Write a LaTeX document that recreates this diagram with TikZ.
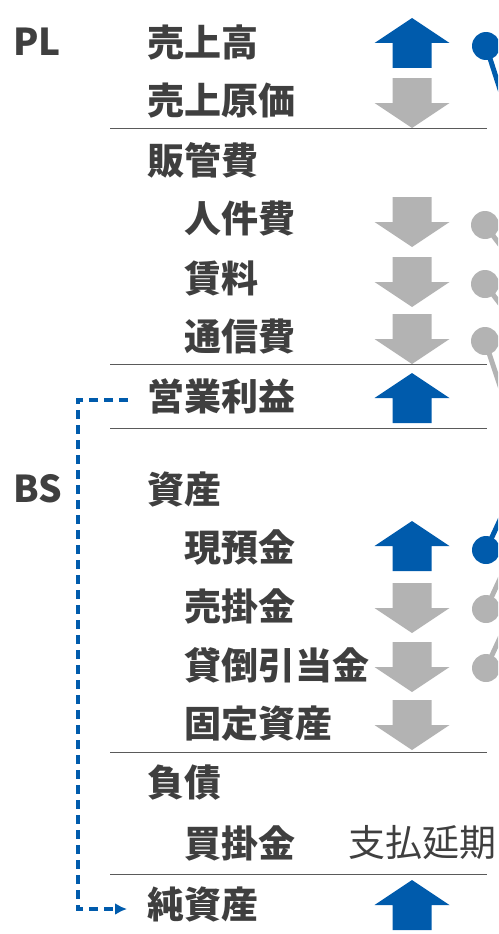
\documentclass[tikz,border=0pt]{standalone}
\usepackage{fontspec}
\setmainfont{Noto Sans CJK JP}
\usepackage{xcolor}
\usetikzlibrary{arrows.meta}
\definecolor{plblue}{HTML}{005BAC}
\definecolor{flatgray}{HTML}{B3B3B3}
\definecolor{inkgray}{HTML}{3F3F3F}
\definecolor{rulegray}{HTML}{5A5A5A}

\begin{document}
\begin{tikzpicture}[
  x=1pt, y=-1pt,
  every node/.style={inner sep=0pt, anchor=west, text=inkgray, font=\fontsize{37}{40}\selectfont\bfseries},
  plain/.style={font=\fontsize{37}{40}\selectfont},
  uparr/.pic={\fill[plblue] (-19.5,25) -- (19.5,25) -- (19.5,0) -- (37.5,0) -- (0,-25) -- (-37.5,0) -- (-19.5,0) -- cycle;},
  downarr/.pic={\fill[flatgray] (-19.5,-25) -- (19.5,-25) -- (19.5,0) -- (37.5,0) -- (0,25) -- (-37.5,0) -- (-19.5,0) -- cycle;},
  sep/.style={draw=rulegray, line width=1pt},
  tail/.style={line width=5pt},
  dashlink/.style={draw=plblue, line width=4pt, dash pattern=on 9pt off 6pt, -{Latex[length=12pt,width=12pt]}}
]
\useasboundingbox (0,0) rectangle (498,934);
\clip (0,0) rectangle (498,934);

% PL
\node (pl) at (13,42) {PL};
\node (uri) at (147,42) {売上高};
\node (genka) at (147,101) {売上原価};
\node (hankan) at (147,160) {販管費};
\node (jinken) at (184,219) {人件費};
\node (chinryo) at (184,278) {賃料};
\node (tsushin) at (184,337) {通信費};
\node (eigyo) at (147,396) {営業利益};

% BS
\node (bs) at (13,489) {BS};
\node (shisan) at (147,489) {資産};
\node (genyo) at (184,547) {現預金};
\node (urikake) at (184,606) {売掛金};
\node (kashidaore) at (184,665) {貸倒引当金};
\node (kotei) at (184,724) {固定資産};
\node (fusai) at (147,783) {負債};
\node (kaikake) at (184,843) {買掛金};
\node[plain] (enki) at (348,843) {支払延期};
\node (junshisan) at (147,904) {純資産};

% separators
\foreach \y in {128,364,428,752,874}
  \draw[sep] (110,\y) -- (487,\y);

% up / down marks
\foreach \y in {43,398,546,905}
  \pic at (412,\y) {uparr};
\foreach \y in {103,222,282,339,608,667,725}
  \pic at (412,\y) {downarr};

% pins
\fill[plblue] (486,46) circle (14);
\draw[plblue, tail] (486,46) -- (505,105);
\foreach \y/\ex/\ey in {225/510/258, 284/510/317, 341/505/401} {
  \fill[flatgray] (485,\y) circle (14);
  \draw[flatgray, tail] (485,\y) -- (\ex,\ey);
}
\fill[plblue] (486,550) circle (14);
\draw[plblue, tail] (486,550) -- (505,509);
\foreach \y in {609,668} {
  \fill[flatgray] (486,\y) circle (14);
  \draw[flatgray, tail] (486,\y) -- (505,\y-41);
}

% profit to net assets
\draw[dashlink] ([xshift=-19pt,yshift=-4pt]eigyo.west) -- ++(-50,0)
  |- ([xshift=-20pt,yshift=-5pt]junshisan.west);
\end{tikzpicture}
\end{document}
